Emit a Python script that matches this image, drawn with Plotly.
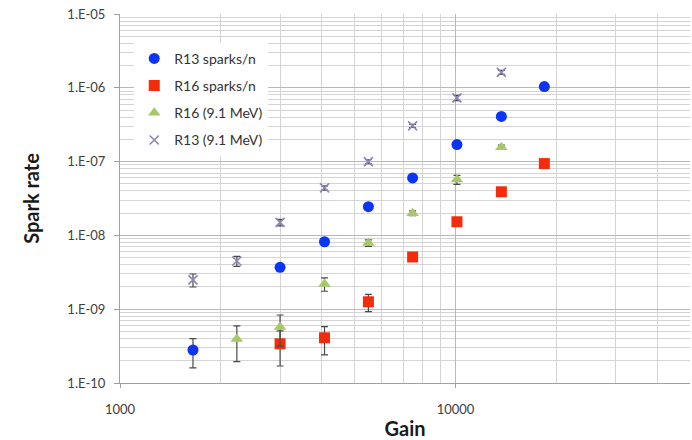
import numpy as np
import plotly.graph_objects as go

# Gain values at which spark rates were measured
gain_r13 = [1650, 3000, 4070, 5500, 7450, 10100, 13700, 18400]
rate_r13 = [2.8e-10, 3.7e-9, 8.2e-9, 2.45e-8, 6.0e-8, 1.7e-7, 4.1e-7, 1.04e-6]
err_r13 = [1.2e-10, 3.0e-10, 6.0e-10, 1.5e-9, 3.5e-9, 9.0e-9, 2.0e-8, 5.0e-8]

gain_r16 = [3000, 4070, 5500, 7450, 10100, 13700, 18400]
rate_r16 = [3.4e-10, 4.1e-10, 1.26e-9, 5.1e-9, 1.53e-8, 3.9e-8, 9.4e-8]
err_r16 = [1.7e-10, 1.7e-10, 3.3e-10, 4.0e-10, 1.0e-9, 2.5e-9, 6.0e-9]

gain_r16_mev = [2230, 3000, 4070, 5500, 7450, 10100, 13700]
rate_r16_mev = [3.95e-10, 5.75e-10, 2.2e-9, 7.9e-9, 2.0e-8, 5.7e-8, 1.57e-7]
err_r16_mev = [2.0e-10, 2.6e-10, 4.5e-10, 8.0e-10, 1.5e-9, 8.0e-9, 1.0e-8]

gain_r13_mev = [1650, 2230, 3000, 4070, 5500, 7450, 10100, 13700]
rate_r13_mev = [2.5e-9, 4.5e-9, 1.5e-8, 4.4e-8, 1.0e-7, 3.05e-7, 7.3e-7, 1.62e-6]
err_r13_mev = [5.0e-10, 7.0e-10, 1.5e-9, 3.0e-9, 6.0e-9, 1.5e-8, 6.0e-8, 1.0e-7]

y_tick_vals = [1e-10, 1e-9, 1e-8, 1e-7, 1e-6, 1e-5]
y_tick_text = ["1.E-10", "1.E-09", "1.E-08", "1.E-07", "1.E-06", "1.E-05"]
x_tick_vals = [1000, 10000]
x_tick_text = ["1000", "10000"]

FONT = "Lato, 'Open Sans', sans-serif"
ERR_COLOR = "#4a4a4a"

# minor gridlines at 2..9 of every decade
x_minor = [m * 10 ** e for e in (3, 4) for m in range(2, 10) if m * 10 ** e <= 50000]
y_minor = [m * 10.0 ** e for e in range(-10, -5) for m in range(2, 10)]

fig = go.Figure()

def add_series(x, y, err, name, marker):
    fig.add_trace(go.Scatter(
        x=x, y=y, mode="markers", name=name, marker=marker,
        error_y=dict(type="data", array=err, visible=True,
                     color=ERR_COLOR, thickness=1.2, width=3.5),
        legendgroup=name,
    ))

add_series(gain_r13, rate_r13, err_r13, "R13 sparks/n",
           dict(symbol="circle", size=11, color="#0a35f5"))
add_series(gain_r16, rate_r16, err_r16, "R16 sparks/n",
           dict(symbol="square", size=11, color="#f52c0c"))
add_series(gain_r16_mev, rate_r16_mev, err_r16_mev, "R16 (9.1 MeV)",
           dict(symbol="triangle-up", size=11, color="#a6c867"))
add_series(gain_r13_mev, rate_r13_mev, err_r13_mev, "R13 (9.1 MeV)",
           dict(symbol="x-thin", size=9, color="#8c86b8",
                line=dict(width=1.6, color="#8c86b8")))

fig.update_layout(
    width=692, height=440,
    margin=dict(l=120, r=2, t=14, b=57),
    paper_bgcolor="white", plot_bgcolor="white",
    font=dict(family=FONT, color="#404040", size=13),
    showlegend=True,
    legend=dict(
        x=0.025, y=0.922, xanchor="left", yanchor="top",
        bgcolor="white", borderwidth=0,
        font=dict(family=FONT, size=14, color="#333333"),
        tracegroupgap=6, itemwidth=30,
    ),
)

fig.update_xaxes(
    type="log", range=[3, np.log10(50000)],
    tickvals=x_tick_vals, ticktext=x_tick_text,
    showgrid=True, gridcolor="#b8b8b8", gridwidth=1,
    minor=dict(tickvals=x_minor, showgrid=True, gridcolor="#d4d4d4", gridwidth=1, ticks=""),
    showline=True, linecolor="#a0a0a0", linewidth=1,
    ticks="outside", ticklen=4, tickcolor="#a0a0a0",
    ticklabelstandoff=10,
    tickfont=dict(size=13, color="#404040"),
    title=dict(text="<b>Gain</b>", font=dict(size=20, color="#1a1a1a"), standoff=6),
    zeroline=False,
)
fig.update_yaxes(
    type="log", range=[-10, -5],
    tickvals=y_tick_vals, ticktext=y_tick_text,
    showgrid=True, gridcolor="#b8b8b8", gridwidth=1,
    minor=dict(tickvals=y_minor, showgrid=True, gridcolor="#d4d4d4", gridwidth=1, ticks=""),
    showline=True, linecolor="#a0a0a0", linewidth=1,
    ticks="outside", ticklen=5, tickcolor="#a0a0a0",
    ticklabelstandoff=6,
    tickfont=dict(size=13, color="#404040"),
    title=dict(text="<b>Spark rate</b>", font=dict(size=20, color="#1a1a1a"), standoff=22),
    zeroline=False,
)

fig.write_html("out.html")
